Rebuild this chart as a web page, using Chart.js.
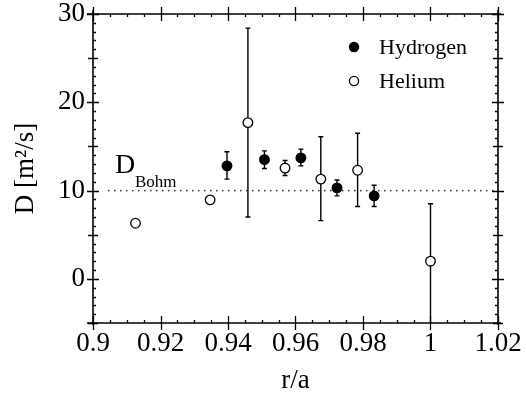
<!DOCTYPE html>
<html>
<head>
<meta charset="utf-8">
<script src="https://cdn.jsdelivr.net/npm/chart.js@4.4.0/dist/chart.umd.min.js"></script>
<style>
  html, body { margin: 0; padding: 0; background: #fff; }
</style>
</head>
<body>
<canvas id="chart" width="526" height="400"></canvas>
<script>
// Hydrogen (filled circles)
const hydrogenR = [0.9397, 0.9508, 0.9616, 0.9723, 0.9833];
const hydrogenD = [12.8, 13.5, 13.7, 10.3, 9.4];
const hydrogenLo = [11.3, 12.5, 12.8, 9.4, 8.2];
const hydrogenHi = [14.4, 14.5, 14.7, 11.2, 10.6];

// Helium (open circles)
const heliumR = [0.9126, 0.9347, 0.9459, 0.9569, 0.9675, 0.9784, 1.0];
const heliumD = [6.3, 8.95, 17.7, 12.55, 11.3, 12.3, 2.0];
const heliumLo = [null, null, 7.0, 11.7, 6.6, 8.2, -6];
const heliumHi = [null, null, 28.4, 13.4, 16.1, 16.5, 8.5];

const dBohm = 10;
const xTicks = [0.9, 0.92, 0.94, 0.96, 0.98, 1, 1.02];
const yTicks = [0, 10, 20, 30];

const serif = '"Liberation Serif", "Times New Roman", serif';
const ink = '#000';

function toPoints(xs, ys, lo, hi) {
  return xs.map((x, i) => ({ x: x, y: ys[i], lo: lo[i], hi: hi[i] }));
}

const extras = {
  id: 'extras',
  beforeDatasetsDraw(chart) {
    const { ctx, chartArea: a, scales: { x, y } } = chart;
    ctx.save();
    ctx.beginPath();
    ctx.rect(a.left, a.top, a.right - a.left, a.bottom - a.top);
    ctx.clip();

    // D_Bohm dotted line
    const yb = y.getPixelForValue(dBohm);
    ctx.fillStyle = '#333';
    for (let px = a.left + 15; px < a.right - 1; px += 6) {
      ctx.fillRect(px, yb - 0.7, 1.5, 1.5);
    }

    // error bars
    ctx.strokeStyle = ink;
    ctx.lineWidth = 1.4;
    chart.data.datasets.forEach(ds => {
      ds.data.forEach(p => {
        if (p.lo == null) return;
        const px = x.getPixelForValue(p.x);
        const y1 = y.getPixelForValue(p.lo);
        const y2 = y.getPixelForValue(p.hi);
        ctx.beginPath();
        ctx.moveTo(px, y1); ctx.lineTo(px, y2);
        ctx.moveTo(px - 2.5, y1); ctx.lineTo(px + 2.5, y1);
        ctx.moveTo(px - 2.5, y2); ctx.lineTo(px + 2.5, y2);
        ctx.stroke();
      });
    });
    ctx.restore();
  },
  afterDraw(chart) {
    const { ctx, chartArea: a, scales: { x, y } } = chart;
    ctx.save();
    ctx.strokeStyle = ink;
    ctx.lineWidth = 1.6;

    // frame
    ctx.beginPath();
    ctx.moveTo(a.left - 6, a.top); ctx.lineTo(a.right + 3, a.top);
    ctx.moveTo(a.left - 6, a.bottom); ctx.lineTo(a.right + 3, a.bottom);
    ctx.moveTo(a.left, a.top - 4); ctx.lineTo(a.left, a.bottom + 2);
    ctx.moveTo(a.right, a.top - 4); ctx.lineTo(a.right, a.bottom + 2);
    ctx.stroke();

    // y ticks (left and right)
    ctx.lineWidth = 1.3;
    ctx.beginPath();
    for (let v = -5; v <= 30; v++) {
      const py = Math.round(y.getPixelForValue(v)) + 0.5;
      let out = 0, inn = 3;
      if (v % 10 === 0) { out = 6; inn = 6; }
      else if (v % 5 === 0) { out = 5; inn = 5; }
      ctx.moveTo(a.left - out, py); ctx.lineTo(a.left + inn, py);
      ctx.moveTo(a.right + out, py); ctx.lineTo(a.right - inn, py);
    }
    // x ticks (bottom and top)
    for (let k = 0; k <= 24; k++) {
      const v = 0.9 + k * 0.005;
      const px = Math.round(x.getPixelForValue(v)) + 0.5;
      let out = 0, inn = 3;
      if (k % 4 === 0) { out = 7; inn = 7; }
      ctx.moveTo(px, a.bottom + out); ctx.lineTo(px, a.bottom - inn);
      ctx.moveTo(px, a.top - out); ctx.lineTo(px, a.top + inn);
    }
    ctx.stroke();

    // D_Bohm label
    ctx.fillStyle = ink;
    ctx.textBaseline = 'alphabetic';
    ctx.textAlign = 'left';
    ctx.font = '28px ' + serif;
    ctx.fillText('D', 115, 173);
    ctx.font = '17px ' + serif;
    ctx.fillText('Bohm', 135, 187);

    // legend
    ctx.font = '22px ' + serif;
    ctx.textBaseline = 'middle';
    chart.data.datasets.forEach((ds, i) => {
      const cy = 47 + i * 34;
      ctx.beginPath();
      ctx.arc(354, cy, 4.6, 0, Math.PI * 2);
      ctx.fillStyle = ds.backgroundColor;
      ctx.fill();
      ctx.lineWidth = 1.3;
      ctx.strokeStyle = ds.borderColor;
      ctx.stroke();
      ctx.fillStyle = ink;
      ctx.fillText(ds.label, 379, cy + 1);
    });
    ctx.restore();
  }
};

new Chart(document.getElementById('chart'), {
  type: 'scatter',
  data: {
    datasets: [
      {
        label: 'Hydrogen',
        data: toPoints(hydrogenR, hydrogenD, hydrogenLo, hydrogenHi),
        backgroundColor: ink,
        borderColor: ink,
        pointRadius: 4.8,
        borderWidth: 1.3
      },
      {
        label: 'Helium',
        data: toPoints(heliumR, heliumD, heliumLo, heliumHi),
        backgroundColor: '#fff',
        borderColor: ink,
        pointRadius: 4.8,
        borderWidth: 1.3
      }
    ]
  },
  options: {
    responsive: false,
    animation: false,
    events: [],
    layout: { padding: { top: 14, right: 28, left: 0, bottom: 0 } },
    plugins: { legend: { display: false }, tooltip: { enabled: false } },
    scales: {
      x: {
        type: 'linear',
        min: 0.9,
        max: 1.02,
        grid: { display: false, drawTicks: false },
        border: { display: false },
        afterBuildTicks: s => { s.ticks = xTicks.map(v => ({ value: v })); },
        afterFit: s => { s.height = 77; s.paddingLeft = 0; s.paddingRight = 0; },
        ticks: {
          color: ink,
          padding: 7,
          maxRotation: 0,
          autoSkip: false,
          font: { family: serif, size: 27, lineHeight: 1 },
          callback: v => String(v)
        },
        title: {
          display: true,
          text: 'r/a',
          color: ink,
          padding: { top: 0, bottom: 3 },
          font: { family: serif, size: 27, lineHeight: 1.2 }
        }
      },
      y: {
        type: 'linear',
        min: -5,
        max: 30,
        grid: { display: false, drawTicks: false },
        border: { display: false },
        afterBuildTicks: s => { s.ticks = yTicks.map(v => ({ value: v })); },
        afterFit: s => { s.width = 93; s.paddingTop = 0; s.paddingBottom = 0; },
        ticks: {
          color: ink,
          padding: 8,
          font: { family: serif, size: 27, lineHeight: 1 }
        },
        title: {
          display: true,
          text: 'D [m\u00B2/s]',
          color: ink,
          padding: { top: 10, bottom: 0 },
          font: { family: serif, size: 27, lineHeight: 1.2 }
        }
      }
    }
  },
  plugins: [extras]
});
</script>
</body>
</html>
